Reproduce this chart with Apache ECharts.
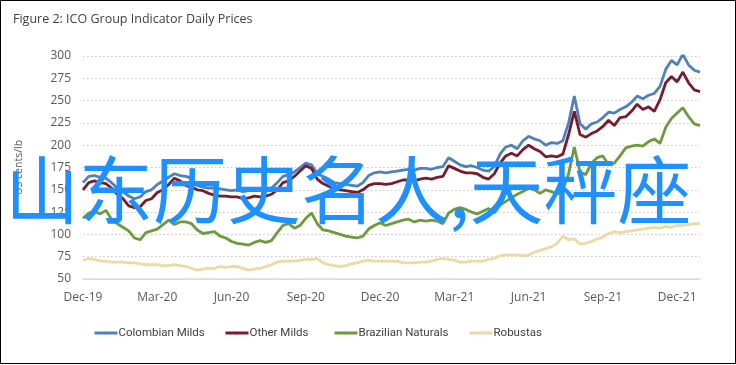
<!DOCTYPE html>
<html>
<head>
<meta charset="utf-8">
<script src="https://cdn.jsdelivr.net/npm/echarts@6/dist/echarts.min.js"></script>
<style>
html,body{margin:0;padding:0;background:#fff;}
#c{width:736px;height:365px;}
</style>
</head>
<body>
<div id="c"></div>
<script>
// Quarter tick labels (one every 13 weekly points)
const tickLabels = ['Dec-19','Mar-20','Jun-20','Sep-20','Dec-20','Mar-21','Jun-21','Sep-21','Dec-21'];
const weeksPerTick = 13;

// Weekly readings, US cents/lb
const colombianMilds = [158,165,166,164,163,158,152,148,143,140,142,148,150,156,160,164,168,166,165,163,155,153,152,152,151,150,149,150,148,149,150,151,150,152,158,165,167,170,175,180,178,168,165,162,158,157,156,155,154,158,166,169,170,169,170,171,172,173,172,174,174,173,175,176,186,182,178,176,177,175,172,171,176,190,198,200,196,205,210,207,205,200,203,202,205,225,255,224,218,224,226,231,237,236,240,243,248,255,252,256,258,266,285,295,290,302,290,284,282];
const otherMilds = [150,158,160,158,157,152,145,140,132,130,131,138,140,147,150,156,163,160,155,153,150,149,146,144,143,143,142,142,140,141,143,142,143,145,150,158,160,165,171,177,174,162,157,154,151,150,149,148,147,150,155,157,157,156,157,159,161,161,160,162,163,162,164,165,177,174,171,169,169,168,164,162,168,180,188,191,188,195,200,196,193,187,188,187,190,212,238,212,209,213,216,221,228,222,231,232,238,246,240,243,238,251,270,277,271,282,270,262,260];
const brazilianNaturals = [118,124,126,123,127,117,112,108,104,96,94,102,104,106,111,116,111,114,114,112,105,101,102,103,98,96,92,90,89,88,91,93,91,93,102,110,112,107,110,118,124,112,105,104,102,100,98,97,96,98,106,110,113,110,112,114,116,117,114,116,115,116,115,112,124,128,130,128,125,123,126,129,124,133,137,141,145,148,152,150,146,150,148,145,150,168,198,170,167,180,186,188,178,180,188,197,199,200,199,204,207,202,220,230,236,242,232,224,222];
const robustas = [71,73,72,70,70,69,69,69,68,68,67,66,66,66,65,65,66,65,64,62,60,61,62,62,64,63,64,64,62,60,61,62,64,66,69,70,70,70,71,72,72,73,68,66,65,64,65,67,68,70,71,70,70,70,70,70,68,68,68,69,69,70,72,73,72,71,69,69,70,70,70,72,73,76,77,77,77,76,77,80,82,84,86,90,98,94,95,89,90,92,95,97,101,103,102,103,104,105,106,107,108,107,109,108,110,110,111,112,112];

const seriesNames = ['Colombian Milds','Other Milds','Brazilian Naturals','Robustas'];
const seriesColors = ['#4F81BD','#7A1B2D','#6B9B3A','#EDD9A3'];
const legendLefts = [88, 219, 328, 463];
const chartTitle = 'Figure 2: ICO Group Indicator Daily Prices';
const overlayText = '山东历史名人,天秤座';

const categories = colombianMilds.map((v,i) =>
  (i % weeksPerTick === 0 && tickLabels[i/weeksPerTick]) ? tickLabels[i/weeksPerTick] : ('w' + i));

const chart = echarts.init(document.getElementById('c'), null, {renderer:'canvas'});
const allData = [colombianMilds, otherMilds, brazilianNaturals, robustas];

chart.setOption({
  animation: false,
  backgroundColor: '#fff',
  title: [
    {
      text: chartTitle,
      left: 8, top: 8,
      textStyle: {fontFamily: 'Open Sans', fontSize: 12.5, fontWeight: 'normal', color: '#404040'}
    },
    {
      text: overlayText,
      left: 5, top: 153, padding: 0,
      z: 50, zlevel: 2,
      textStyle: {fontFamily: 'Noto Sans CJK SC', fontSize: 74, fontWeight: 'normal', color: '#1E90FF'}
    }
  ],
  legend: seriesNames.map((n, k) => ({
    data: [n],
    left: legendLefts[k], top: 322,
    itemWidth: 23, itemHeight: 3, itemGap: 0,
    lineStyle: {width: 3},
    textStyle: {fontFamily: 'Roboto', fontSize: 11.5, color: '#404040', padding: [0,0,0,-4]}
  })),
  grid: {left: 83, right: 36, top: 56, bottom: 86},
  xAxis: {
    type: 'category',
    data: categories,
    boundaryGap: false,
    axisLine: {lineStyle: {color: '#D9D9D9', width: 1.5}},
    axisTick: {show: false},
    axisLabel: {
      interval: (i) => i % weeksPerTick === 0,
      formatter: (v) => v.charAt(0) === 'w' ? '' : v,
      margin: 13,
      fontFamily: 'Open Sans', fontSize: 12, color: '#595959'
    },
    splitLine: {show: false}
  },
  yAxis: {
    type: 'value',
    min: 50, max: 300, interval: 25,
    name: 'US cents/lb',
    nameLocation: 'middle',
    nameGap: 58,
    nameTextStyle: {fontFamily: 'Open Sans', fontSize: 10.5, color: '#595959'},
    axisLine: {show: false},
    axisTick: {show: false},
    axisLabel: {fontFamily: 'Open Sans', fontSize: 12, color: '#595959', margin: 12},
    splitLine: {lineStyle: {color: '#C8C8C8', type: [1.5,2.5], width: 1}}
  },
  series: seriesNames.map((n, k) => ({
    name: n,
    type: 'line',
    data: allData[k],
    showSymbol: false,
    symbol: 'rect',
    symbolSize: 1,
    lineStyle: {width: 2.8, color: seriesColors[k]},
    itemStyle: {color: seriesColors[k]},
    z: 2
  })),
  graphic: [
    {type: 'rect', shape: {x: 0.5, y: 0.5, width: 735, height: 363}, style: {fill: 'none', stroke: '#000', lineWidth: 1}, silent: true}
  ]
});
</script>
</body>
</html>
